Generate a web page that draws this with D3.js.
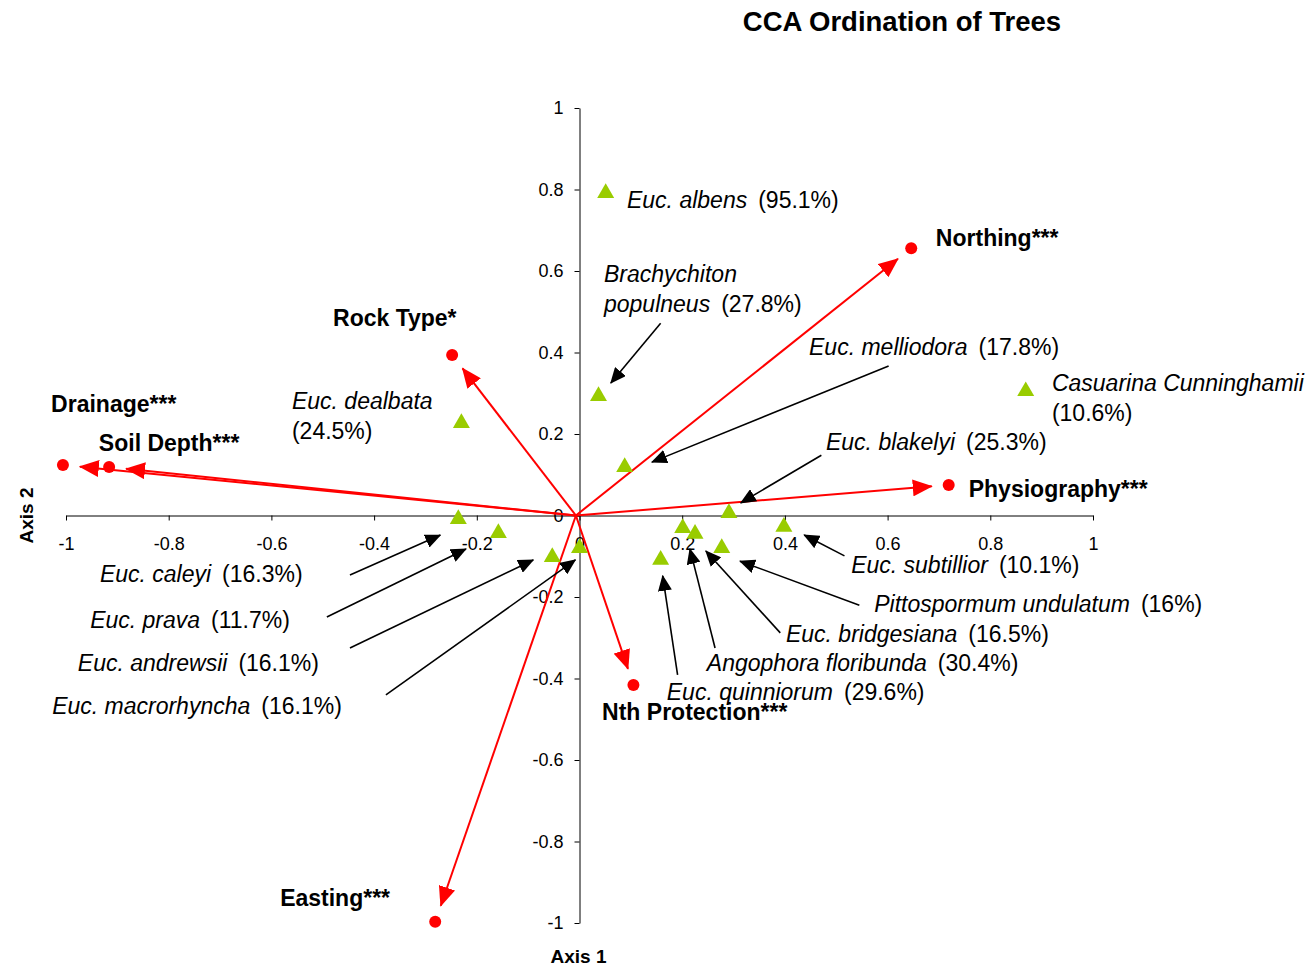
<!DOCTYPE html>
<html>
<head>
<meta charset="utf-8">
<script src="https://cdn.jsdelivr.net/npm/d3@7/dist/d3.min.js"></script>
<style>
body { margin: 0; background: #fff; }
text { font-family: Arial, "Liberation Sans", sans-serif; fill: #000; }
</style>
</head>
<body>
<div id="graph"></div>
<script>
var width = 1311, height = 967

var xTicks = [-1, -0.8, -0.6, -0.4, -0.2, 0, 0.2, 0.4, 0.6, 0.8, 1]
var yTicks = [-1, -0.8, -0.6, -0.4, -0.2, 0, 0.2, 0.4, 0.6, 0.8, 1]

// environmental variables (biplot scores)
var envNames = ["Drainage***", "Soil Depth***", "Rock Type*", "Northing***", "Physiography***", "Nth Protection***", "Easting***"]
var envX = [-1.006, -0.916, -0.248, 0.646, 0.719, 0.105, -0.281]
var envY = [0.124, 0.119, 0.394, 0.656, 0.075, -0.416, -0.997]

// species scores, "|" = line break in the name
var spNames = ["Euc. albens", "Brachychiton|populneus", "Euc. dealbata", "Euc. melliodora", "Casuarina Cunninghamii",
    "Euc. blakelyi", "Euc. subtillior", "Pittospormum undulatum", "Euc. bridgesiana", "Angophora floribunda",
    "Euc. quinniorum", "Euc. caleyi", "Euc. prava", "Euc. andrewsii", "Euc. macrorhyncha"]
var spPct = ["(95.1%)", "(27.8%)", "(24.5%)", "(17.8%)", "(10.6%)", "(25.3%)", "(10.1%)", "(16%)", "(16.5%)",
    "(30.4%)", "(29.6%)", "(16.3%)", "(11.7%)", "(16.1%)", "(16.1%)"]
var spPctOwnLine = [false, false, true, false, true, false, false, false, false, false, false, false, false, false, false]
var spX = [0.051, 0.037, -0.230, 0.088, 0.869, 0.291, 0.398, 0.277, 0.225, 0.201, 0.158, -0.236, -0.158, -0.053, 0.0]
var spY = [0.791, 0.293, 0.227, 0.119, 0.305, 0.006, -0.028, -0.080, -0.045, -0.031, -0.109, -0.009, -0.043, -0.102, -0.080]

// label anchors (axis units)
var envLabelX = [-1.029, -0.936, -0.480, 0.694, 0.758, 0.044, -0.583]
var envLabelY = [0.254, 0.158, 0.465, 0.661, 0.045, -0.502, -0.958]
var spLabelX = [0.0925, 0.0477, -0.560, 0.447, 0.920, 0.480, 0.529, 0.574, 0.402, 0.248, 0.170, -0.934, -0.953, -0.977, -1.027]
var spLabelY = [0.755, 0.573, 0.261, 0.394, 0.306, 0.161, -0.141, -0.237, -0.310, -0.382, -0.453, -0.163, -0.276, -0.382, -0.487]

// callout arrows: tail and head (axis units), null = no callout
var calloutFrom = [null, [0.158, 0.472], null, [0.602, 0.367], null, [0.471, 0.148], [0.516, -0.099], [0.545, -0.220],
    [0.391, -0.288], [0.264, -0.325], [0.191, -0.391], [-0.447, -0.146], [-0.492, -0.249], [-0.447, -0.325], [-0.377, -0.440]]
var calloutTo = [null, [0.061, 0.325], null, [0.141, 0.131], null, [0.314, 0.031], [0.4375, -0.048], [0.3125, -0.112],
    [0.246, -0.087], [0.215, -0.082], [0.162, -0.148], [-0.271, -0.048], [-0.221, -0.082], [-0.090, -0.109], [-0.008, -0.109]]

var origin = [-0.007, 0]

var svg = d3.select("#graph").append("svg")
    .attr("width", width).attr("height", height)

var x = d3.scaleLinear().domain([-1, 1]).range([66, 1093])
var y = d3.scaleLinear().domain([-1, 1]).range([923, 108])

var defs = svg.append("defs")
defs.append("marker")
    .attr("id", "redhead")
    .attr("viewBox", "0 0 20 17")
    .attr("refX", 19).attr("refY", 8.5)
    .attr("markerWidth", 20).attr("markerHeight", 17)
    .attr("markerUnits", "userSpaceOnUse")
    .attr("orient", "auto")
    .append("path").attr("d", "M0,0L20,8.5L0,17Z").attr("fill", "#ff0000")
defs.append("marker")
    .attr("id", "blackhead")
    .attr("viewBox", "0 0 16 14")
    .attr("refX", 15).attr("refY", 7)
    .attr("markerWidth", 16).attr("markerHeight", 14)
    .attr("markerUnits", "userSpaceOnUse")
    .attr("orient", "auto")
    .append("path").attr("d", "M0,0L16,7L0,14Z").attr("fill", "#000")

// title
svg.append("text")
    .attr("x", 902).attr("y", 31)
    .attr("text-anchor", "middle")
    .style("font-size", "27.5px").style("font-weight", "bold")
    .text("CCA Ordination of Trees")

// axes crossing at the origin
var fmt = function(d) { return String(d) }

var xAxis = svg.append("g")
    .attr("transform", "translate(0," + y(0) + ")")
    .call(d3.axisBottom(x).tickValues(xTicks).tickFormat(fmt).tickSize(5).tickSizeOuter(0).tickPadding(17))
var yAxis = svg.append("g")
    .attr("transform", "translate(" + x(0) + ",0)")
    .call(d3.axisLeft(y).tickValues(yTicks).tickFormat(fmt).tickSize(5).tickSizeOuter(0).tickPadding(11))

svg.selectAll(".tick text").style("font-size", "18px").style("font-family", "Arial, 'Liberation Sans', sans-serif")
svg.selectAll(".domain, .tick line").attr("stroke", "#000")

svg.append("text")
    .attr("x", x(0) - 1).attr("y", 963)
    .attr("text-anchor", "middle")
    .style("font-size", "19px").style("font-weight", "bold")
    .text("Axis 1")
svg.append("text")
    .attr("transform", "translate(33," + y(0) + ") rotate(-90)")
    .attr("text-anchor", "middle")
    .style("font-size", "19px").style("font-weight", "bold")
    .text("Axis 2")

// environmental vectors
var env = envNames.map(function(n, i) {
    return {name: n, x: envX[i], y: envY[i], lx: envLabelX[i], ly: envLabelY[i]}
})

svg.append("g").selectAll("line")
    .data(env)
    .enter().append("line")
    .attr("x1", x(origin[0])).attr("y1", y(origin[1]))
    .attr("x2", function(d) { return shorten(d)[0] })
    .attr("y2", function(d) { return shorten(d)[1] })
    .attr("stroke", "#ff0000").attr("stroke-width", 2)
    .attr("marker-end", "url(#redhead)")

function shorten(d) {
    var x0 = x(origin[0]), y0 = y(origin[1])
    var x1 = x(d.x), y1 = y(d.y)
    var len = Math.hypot(x1 - x0, y1 - y0)
    var k = (len - 17) / len
    return [x0 + (x1 - x0) * k, y0 + (y1 - y0) * k]
}

svg.append("g").selectAll("circle")
    .data(env)
    .enter().append("circle")
    .attr("cx", function(d) { return x(d.x) })
    .attr("cy", function(d) { return y(d.y) })
    .attr("r", 6)
    .attr("fill", "#ff0000")

svg.append("g").selectAll("text")
    .data(env)
    .enter().append("text")
    .attr("x", function(d) { return x(d.lx) })
    .attr("y", function(d) { return y(d.ly) })
    .style("font-size", "23px").style("font-weight", "bold")
    .text(function(d) { return d.name })

// species
var species = spNames.map(function(n, i) {
    return {name: n, pct: spPct[i], own: spPctOwnLine[i], x: spX[i], y: spY[i],
        lx: spLabelX[i], ly: spLabelY[i], from: calloutFrom[i], to: calloutTo[i]}
})

svg.append("g").selectAll("path")
    .data(species)
    .enter().append("path")
    .attr("d", d3.symbol(d3.symbolTriangle, 125))
    .attr("transform", function(d) { return "translate(" + x(d.x) + "," + y(d.y) + ")" })
    .attr("fill", "#99cc00")

svg.append("g").selectAll("line")
    .data(species.filter(function(d) { return d.from }))
    .enter().append("line")
    .attr("x1", function(d) { return x(d.from[0]) })
    .attr("y1", function(d) { return y(d.from[1]) })
    .attr("x2", function(d) { return x(d.to[0]) })
    .attr("y2", function(d) { return y(d.to[1]) })
    .attr("stroke", "#000").attr("stroke-width", 1.6)
    .attr("marker-end", "url(#blackhead)")

var spLabel = svg.append("g").selectAll("text")
    .data(species)
    .enter().append("text")
    .attr("x", function(d) { return x(d.lx) })
    .attr("y", function(d) { return y(d.ly) })
    .style("font-size", "23px")

spLabel.each(function(d) {
    var t = d3.select(this)
    var lines = d.name.split("|")
    lines.forEach(function(line, j) {
        t.append("tspan")
            .attr("x", x(d.lx))
            .attr("dy", j == 0 ? 0 : 30)
            .style("font-style", "italic")
            .text(line)
    })
    if (d.own) {
        t.append("tspan").attr("x", x(d.lx)).attr("dy", 30).text(d.pct)
    } else {
        t.append("tspan").attr("dx", 11).text(d.pct)
    }
})
</script>
</body>
</html>
